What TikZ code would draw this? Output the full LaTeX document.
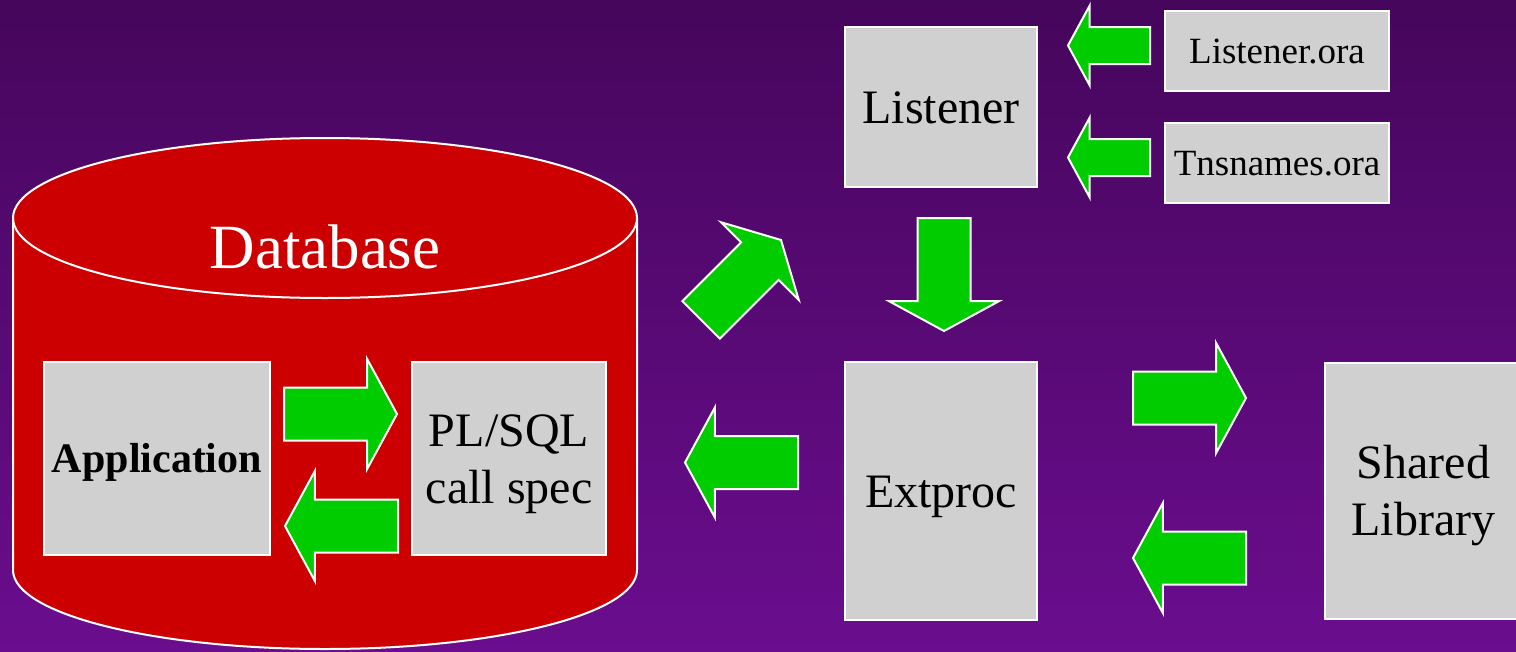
\documentclass[tikz,border=0pt]{standalone}
\usepackage{fontspec}
\setmainfont{Liberation Serif}
\usetikzlibrary{shapes.arrows,positioning}

\definecolor{bgtop}{RGB}{70,6,92}
\definecolor{bgbot}{RGB}{106,13,142}
\definecolor{dbred}{RGB}{204,0,0}
\definecolor{boxgray}{RGB}{208,208,208}
\definecolor{fatgreen}{RGB}{0,204,0}

\begin{document}
\begin{tikzpicture}[x=1pt,y=-1pt,
    box/.style={draw=white, line width=2pt, fill=boxgray, inner sep=0pt, outer sep=0pt,
      align=center, font=\fontsize{48}{57}\selectfont, text height=42.8pt, text depth=10.4pt},
    twoline/.style={box, text height=99.8pt},
    orabox/.style={box, minimum width=224pt, minimum height=80pt,
      font=\fontsize{37}{44}\selectfont, text height=33pt, text depth=8pt},
    fat/.style={single arrow, draw=white, line width=2pt, fill=fatgreen, inner sep=0pt,
      inner ysep=25.5pt, outer sep=0pt, minimum height=113pt,
      single arrow head extend=28.5pt, single arrow tip angle=123, anchor=tip},
    slim/.style={fat, inner ysep=17.5pt, minimum height=82pt, single arrow head extend=21.5pt},
  ]
  % background
  \shade[top color=bgtop, bottom color=bgbot] (0,0) rectangle (1516,651);
  \useasboundingbox (0,0) rectangle (1516,651);

  % database drum
  \draw[draw=white, line width=2pt, fill=dbred] (13,218) -- (13,570)
    arc[start angle=180, end angle=360, x radius=312pt, y radius=79pt] -- (637,218)
    arc[start angle=0, end angle=180, x radius=312pt, y radius=80pt] -- cycle;
  \draw[white, line width=2pt] (13,218) arc[start angle=180, end angle=360, x radius=312pt, y radius=80pt];
  \node[anchor=base, text=white, font=\fontsize{63}{70}\selectfont] (db) at (325,268) {Database};

  % boxes
  \node[box, minimum width=226pt, minimum height=193pt, font=\fontsize{42}{50}\bfseries,
    text height=37.4pt, text depth=9.1pt] (app) at (157,458.5) {Application};
  \node[twoline, minimum width=194pt, minimum height=193pt] (plsql) at (509,458.5) {PL/SQL\\call spec};
  \node[box, minimum width=192pt, minimum height=160pt] (lsnr) at (941,107) {Listener};
  \node[box, minimum width=192pt, minimum height=258pt] (ext) at (941,491) {Extproc};
  \node[twoline, minimum width=197pt, minimum height=256pt] (lib) at (1423.5,490.5) {Shared\\Library};
  \node[orabox] (lora) at (1277,51) {Listener.ora};
  \node[orabox] (tns) at (1277,163) {Tnsnames.ora};

  % block arrows
  \node[fat] (toplsql) at (397,414) {};
  \node[fat, rotate=180] (toapp) at (285,526) {};
  \node[fat, rotate=180] (todb) at (685,462.5) {};
  \node[fat, rotate=45] (tolsnr) at (781,240) {};
  \node[fat, rotate=-90] (toext) at (944,331) {};
  \node[fat] (tolib) at (1246,398) {};
  \node[fat, rotate=180] (fromlib) at (1133,558) {};
  \node[slim, rotate=180] (fromlora) at (1068,45.5) {};
  \node[slim, rotate=180] (fromtns) at (1068,157.5) {};
\end{tikzpicture}
\end{document}
